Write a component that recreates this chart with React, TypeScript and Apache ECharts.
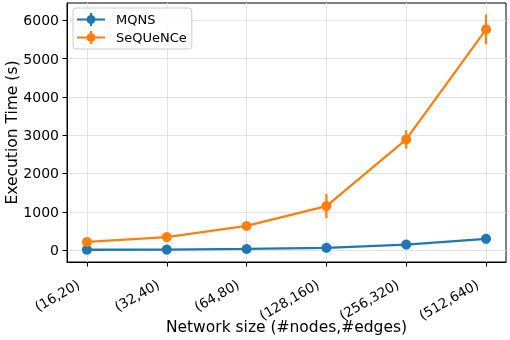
import React, { useEffect, useRef } from "react";
import * as echarts from "echarts";

const categories = ["(16,20)", "(32,40)", "(64,80)", "(128,160)", "(256,320)", "(512,640)"];
const mqnsValues = [10, 15, 30, 60, 145, 295];
const mqnsErrors = [0, 0, 0, 0, 0, 0];
const sequenceValues = [215, 340, 630, 1150, 2890, 5760];
const sequenceErrors = [20, 30, 40, 315, 245, 390];
const yTickValues = [0, 1000, 2000, 3000, 4000, 5000, 6000];
const xTickValues = [0, 1, 2, 3, 4, 5];

const BLUE = "#1f77b4";
const ORANGE = "#ff7f0e";
const FONT = "DejaVu Sans";
const LEGEND_ICON =
  "path://M0,5.9 H28 V8.1 H0 Z M12.9,0.5 H15.1 V13.5 H12.9 Z M9.5,7 A4.5,4.5 0 1,1 18.5,7 A4.5,4.5 0 1,1 9.5,7 Z";

function errorSeries(name: string, values: number[], errors: number[], color: string) {
  return {
    type: "custom",
    name: name + "_err",
    silent: true,
    z: 1,
    data: values.map((v, i) => [i, v - errors[i], v + errors[i]]),
    renderItem: (params: any, api: any) => {
      const p1 = api.coord([api.value(0), api.value(1)]);
      const p2 = api.coord([api.value(0), api.value(2)]);
      return {
        type: "line",
        shape: { x1: p1[0], y1: p1[1], x2: p2[0], y2: p2[1] },
        style: { stroke: color, lineWidth: 2.2 },
      };
    },
  };
}

export default function App() {
  const ref = useRef<HTMLDivElement>(null);
  useEffect(() => {
    if (!ref.current) return;
    const chart = echarts.init(ref.current, undefined, { renderer: "svg" });
    chart.setOption({
      animation: false,
      textStyle: { fontFamily: FONT },
      grid: {
        left: 67,
        right: 4,
        top: 3,
        bottom: 78,
        containLabel: false,
        outerBoundsMode: "none",
        show: true,
        borderColor: "#000",
        borderWidth: 1,
      },
      legend: {
        orient: "vertical",
        left: 73,
        top: 8,
        data: [
          { name: "MQNS", icon: LEGEND_ICON },
          { name: "SeQUeNCe", icon: LEGEND_ICON },
        ],
        itemWidth: 28,
        itemHeight: 14,
        itemGap: 5,
        padding: [5, 5, 5, 4],
        borderColor: "#cccccc",
        borderWidth: 1,
        borderRadius: 3,
        backgroundColor: "rgba(255,255,255,0.8)",
        itemStyle: { borderWidth: 0 },
        textStyle: { fontFamily: FONT, fontSize: 13, color: "#000", padding: [0, 0, 0, 6] },
      },
      xAxis: {
        type: "value",
        min: -0.25,
        max: 5.25,
        name: "Network size (#nodes,#edges)",
        nameLocation: "middle",
        nameGap: 57,
        nameMoveOverlap: false,
        nameTextStyle: { fontFamily: FONT, fontSize: 15.5, color: "#000" },
        axisLine: { show: true, onZero: false, lineStyle: { color: "#000", width: 1 } },
        axisTick: {
          show: true,
          customValues: xTickValues,
          length: 4.5,
          lineStyle: { color: "#000" },
        },
        axisLabel: {
          customValues: xTickValues,
          rotate: 30,
          margin: 24,
          align: "right",
          verticalAlign: "bottom",
          padding: [0, 6, 0, 0],
          fontFamily: FONT,
          fontSize: 13.5,
          color: "#000",
          formatter: (v: number) => categories[Math.round(v)] ?? "",
        },
        splitLine: { show: true, lineStyle: { color: "#e3e3e3", width: 1 } },
      },
      yAxis: {
        type: "value",
        min: -310,
        max: 6450,
        name: "Execution Time (s)",
        nameLocation: "middle",
        nameGap: 47,
        nameMoveOverlap: false,
        nameTextStyle: { fontFamily: FONT, fontSize: 15.5, color: "#000" },
        axisLine: { show: true, onZero: false, lineStyle: { color: "#000", width: 1 } },
        axisTick: {
          show: true,
          customValues: yTickValues,
          length: 4.5,
          lineStyle: { color: "#000" },
        },
        axisLabel: {
          customValues: yTickValues,
          margin: 8,
          fontFamily: FONT,
          fontSize: 14,
          color: "#000",
          formatter: (v: number) => String(v),
        },
        splitLine: { show: true, lineStyle: { color: "#e3e3e3", width: 1 } },
      },
      series: [
        errorSeries("MQNS", mqnsValues, mqnsErrors, BLUE),
        errorSeries("SeQUeNCe", sequenceValues, sequenceErrors, ORANGE),
        {
          type: "line",
          name: "MQNS",
          z: 3,
          data: mqnsValues.map((v, i) => [i, v]),
          symbol: "circle",
          symbolSize: 10,
          showSymbol: true,
          lineStyle: { color: BLUE, width: 2.3 },
          itemStyle: { color: BLUE },
        },
        {
          type: "line",
          name: "SeQUeNCe",
          z: 3,
          data: sequenceValues.map((v, i) => [i, v]),
          symbol: "circle",
          symbolSize: 10,
          showSymbol: true,
          lineStyle: { color: ORANGE, width: 2.3 },
          itemStyle: { color: ORANGE },
        },
      ],
    });
    return () => chart.dispose();
  }, []);
  return (
    <div
      ref={ref}
      style={{ position: "fixed", left: 0, top: 0, width: 510, height: 340 }}
    />
  );
}
